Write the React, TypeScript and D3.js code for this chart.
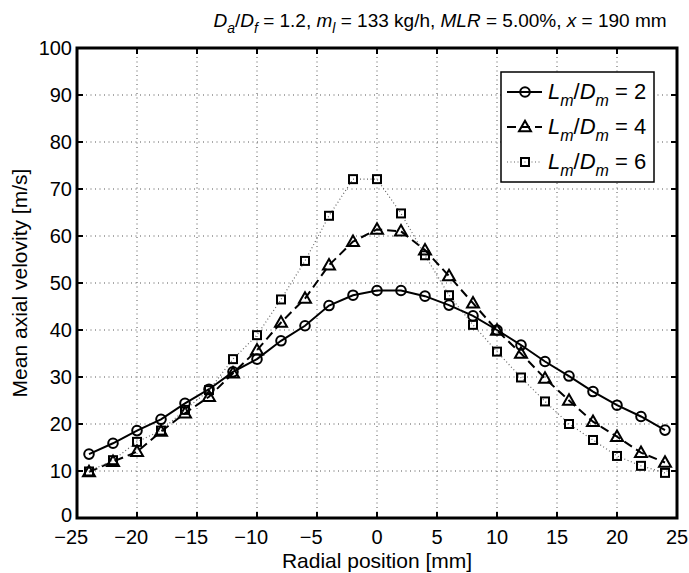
import React from 'react';
import * as d3 from 'd3';

const radial = [-24, -22, -20, -18, -16, -14, -12, -10, -8, -6, -4, -2, 0, 2, 4, 6, 8, 10, 12, 14, 16, 18, 20, 22, 24];
const ld2 = [13.6, 15.9, 18.6, 21.0, 24.4, 27.4, 31.1, 33.8, 37.7, 40.9, 45.2, 47.4, 48.4, 48.4, 47.2, 45.3, 43.0, 40.0, 36.8, 33.3, 30.2, 26.9, 24.0, 21.6, 18.7];
const ld4 = [9.8, 12.0, 14.1, 18.4, 22.3, 25.8, 30.8, 35.7, 41.6, 46.7, 53.8, 58.8, 61.4, 61.0, 57.0, 51.5, 45.7, 39.9, 35.0, 29.7, 25.0, 20.5, 17.3, 13.9, 11.8];
const ld6 = [9.9, 12.3, 16.2, 18.6, 23.0, 27.2, 33.8, 38.9, 46.5, 54.7, 64.3, 72.1, 72.1, 64.8, 55.9, 47.4, 41.1, 35.4, 29.9, 24.8, 20.0, 16.6, 13.2, 11.1, 9.6];
const seriesLabels = ['2', '4', '6'];
const xTicks = [-25, -20, -15, -10, -5, 0, 5, 10, 15, 20, 25];
const yTicks = [0, 10, 20, 30, 40, 50, 60, 70, 80, 90, 100];

const FONT = 'Liberation Sans, Arial, Helvetica, sans-serif';

function Marker({ kind, cx, cy }: { kind: string; cx: number; cy: number }) {
  if (kind === 'circle') return <circle cx={cx} cy={cy} r={4.8} fill="none" stroke="#000" strokeWidth={2} />;
  if (kind === 'triangle')
    return <path d={`M${cx},${cy - 6.2}L${cx + 6},${cy + 4.3}L${cx - 6},${cy + 4.3}Z`} fill="none" stroke="#000" strokeWidth={2} />;
  return <rect x={cx - 4} y={cy - 4} width={8} height={8} fill="none" stroke="#000" strokeWidth={2} />;
}

export default function App() {
  const W = 689, H = 573;
  const L = 77, R = 677, T = 48, B = 518;
  const x = d3.scaleLinear().domain([-25, 25]).range([L, R]);
  const y = d3.scaleLinear().domain([0, 100]).range([B, T]);
  const line = d3.line<number>().x((_, i) => x(radial[i])).y((d) => y(d));

  const series = [
    { vals: ld2, kind: 'circle', dash: undefined as string | undefined, width: 2, color: '#000' },
    { vals: ld4, kind: 'triangle', dash: '9,5', width: 2, color: '#000' },
    { vals: ld6, kind: 'square', dash: '1,2.5', width: 1.2, color: '#666' },
  ];

  const legX = 501, legY = 72, legW = 153, legH = 110;
  const rowY = [92, 127, 162];

  return (
    <svg width={W} height={H} style={{ position: 'absolute', left: 0, top: 0, background: '#fff' }} fontFamily={FONT}>
      <rect x={0} y={0} width={W} height={H} fill="#fff" />
      {/* grid */}
      {xTicks.slice(1, -1).map((t) => (
        <line key={'gx' + t} x1={x(t)} x2={x(t)} y1={T} y2={B} stroke="#555" strokeWidth={1} strokeDasharray="1,3.5" />
      ))}
      {yTicks.slice(1, -1).map((t) => (
        <line key={'gy' + t} x1={L} x2={R} y1={y(t)} y2={y(t)} stroke="#555" strokeWidth={1} strokeDasharray="1,3.5" />
      ))}
      {/* ticks */}
      {xTicks.map((t) => (
        <g key={'tx' + t}>
          <line x1={x(t)} x2={x(t)} y1={B} y2={B - 6} stroke="#000" strokeWidth={2} />
          <line x1={x(t)} x2={x(t)} y1={T} y2={T + 6} stroke="#000" strokeWidth={2} />
          <text x={x(t) - (t < 0 ? 5.8 : 0)} y={544} fontSize={20} textAnchor="middle">{t < 0 ? '\u2212' + Math.abs(t) : String(t)}</text>
        </g>
      ))}
      {yTicks.map((t) => (
        <g key={'ty' + t}>
          <line x1={L} x2={L + 6} y1={y(t)} y2={y(t)} stroke="#000" strokeWidth={2} />
          <line x1={R} x2={R - 6} y1={y(t)} y2={y(t)} stroke="#000" strokeWidth={2} />
          <text x={72} y={y(t) + (t === 0 ? 4 : 7)} fontSize={20} textAnchor="end">{t}</text>
        </g>
      ))}
      {/* series */}
      {series.map((s, si) => (
        <g key={'s' + si}>
          <path d={line(s.vals) || ''} fill="none" stroke={s.color} strokeWidth={s.width} strokeDasharray={s.dash} />
          {s.vals.map((v, i) => (
            <Marker key={i} kind={s.kind} cx={x(radial[i])} cy={y(v)} />
          ))}
        </g>
      ))}
      {/* box */}
      <rect x={L} y={T} width={R - L} height={B - T} fill="none" stroke="#000" strokeWidth={3} />
      {/* legend */}
      <rect x={legX} y={legY} width={legW} height={legH} fill="#fff" stroke="#000" strokeWidth={1.5} />
      {series.map((s, si) => (
        <g key={'l' + si}>
          <line x1={507} x2={542} y1={rowY[si]} y2={rowY[si]} stroke={s.color} strokeWidth={s.width} strokeDasharray={s.dash} />
          <Marker kind={s.kind} cx={525} cy={rowY[si]} />
          <text x={548} y={rowY[si] + 7} fontSize={22}>
            <tspan fontStyle="italic">L</tspan>
            <tspan fontStyle="italic" fontSize={16} dy={7}>m</tspan>
            <tspan dy={-7}>/</tspan>
            <tspan fontStyle="italic">D</tspan>
            <tspan fontStyle="italic" fontSize={16} dy={7}>m</tspan>
            <tspan dy={-7}>{' = ' + seriesLabels[si]}</tspan>
          </text>
        </g>
      ))}
      {/* title */}
      <text x={440} y={27} fontSize={19} textAnchor="middle">
        <tspan fontStyle="italic">D</tspan>
        <tspan fontStyle="italic" fontSize={14} dy={6}>a</tspan>
        <tspan dy={-6}>/</tspan>
        <tspan fontStyle="italic">D</tspan>
        <tspan fontStyle="italic" fontSize={14} dy={6}>f</tspan>
        <tspan dy={-6}> = 1.2, </tspan>
        <tspan fontStyle="italic">m</tspan>
        <tspan fontStyle="italic" fontSize={14} dy={6}>l</tspan>
        <tspan dy={-6}> = 133 kg/h, </tspan>
        <tspan fontStyle="italic">MLR</tspan>
        <tspan> = 5.00%, </tspan>
        <tspan fontStyle="italic">x</tspan>
        <tspan> = 190 mm</tspan>
      </text>
      {/* axis labels */}
      <text x={(L + R) / 2} y={568} fontSize={21} textAnchor="middle">Radial position [mm]</text>
      <text transform={`translate(27,${(T + B) / 2}) rotate(-90)`} fontSize={21} textAnchor="middle">Mean axial velovity [m/s]</text>
    </svg>
  );
}
